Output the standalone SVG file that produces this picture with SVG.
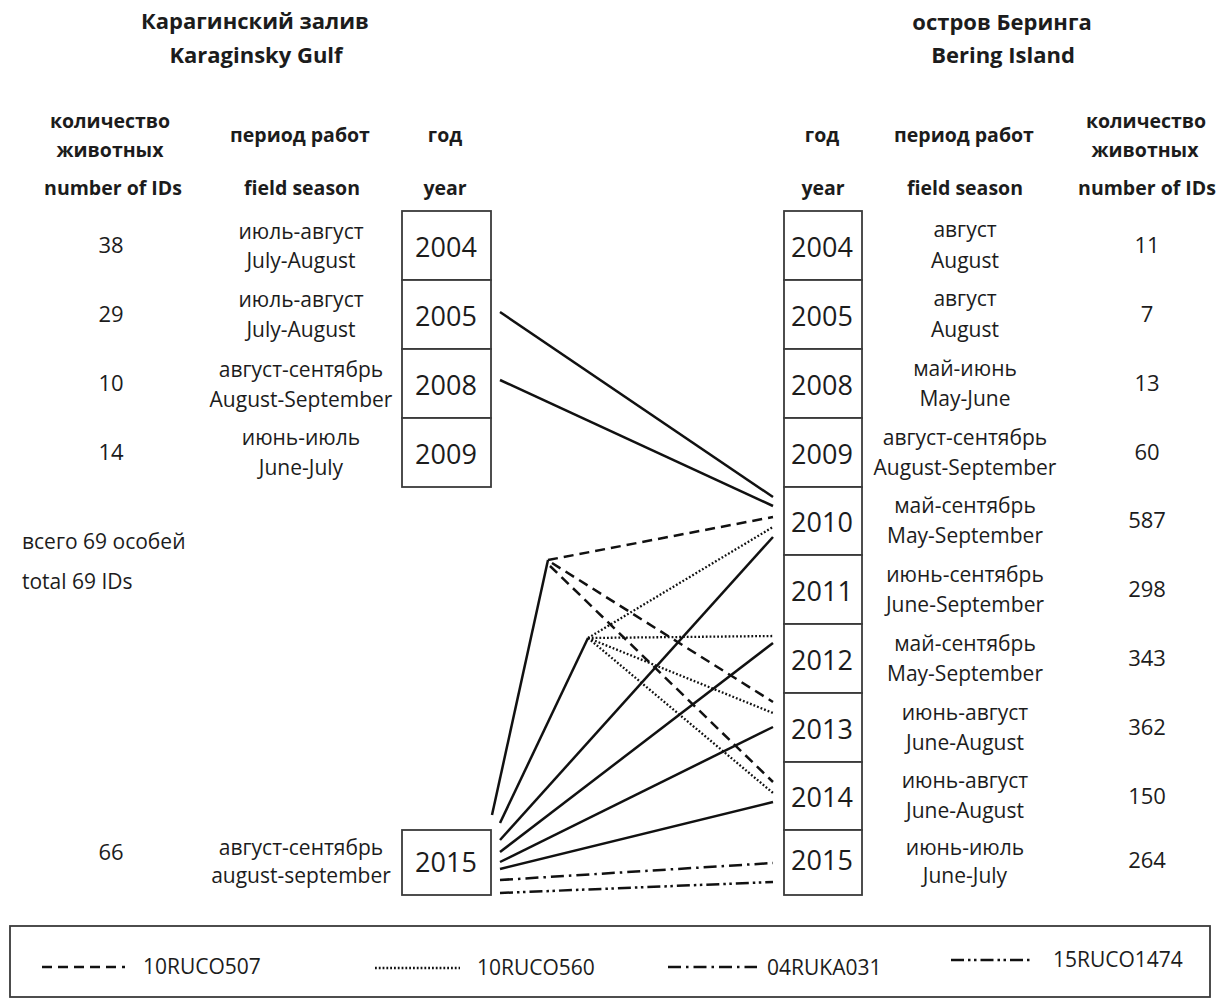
<svg xmlns="http://www.w3.org/2000/svg" width="1223" height="999" viewBox="0 0 1223 999">
<style>
text{font-family:"Open Sans","Noto Sans","DejaVu Sans",sans-serif;fill:#1c1c1c}
.t{font-size:22px;font-weight:bold;text-anchor:middle}
.h{font-size:19.5px;font-weight:bold;text-anchor:middle}
.s{font-size:21px;text-anchor:middle}
.n{font-size:22px;text-anchor:middle}
.y{font-size:27px;text-anchor:middle}
.lg{font-size:21px}
.box{fill:#fff;stroke:#3a3a3a;stroke-width:1.8}
.c{stroke:#111;stroke-width:2.5;fill:none}
.dash{stroke-dasharray:10 6}
.dot{stroke-dasharray:1.8 2;stroke-width:2.3}
.dd{stroke-dasharray:13 5 2.5 5}
.ddd{stroke-dasharray:13 4 2.5 3.5 2.5 4}
</style>

<g id="titles">
<text class="t" x="255" y="29">Карагинский залив</text>
<text class="t" x="256" y="63">Karaginsky Gulf</text>
<text class="t" x="1002" y="30">остров Беринга</text>
<text class="t" x="1003" y="63">Bering Island</text>
</g>

<g id="headers-left">
<text class="h" x="110" y="128">количество</text>
<text class="h" x="110" y="157">животных</text>
<text class="h" x="113" y="195">number of IDs</text>
<text class="h" x="300" y="142">период работ</text>
<text class="h" x="302" y="195">field season</text>
<text class="h" x="445" y="142">год</text>
<text class="h" x="445" y="195">year</text>
</g>

<g id="headers-right">
<text class="h" x="822" y="142">год</text>
<text class="h" x="823" y="195">year</text>
<text class="h" x="964" y="142">период работ</text>
<text class="h" x="965" y="195">field season</text>
<text class="h" x="1146" y="128">количество</text>
<text class="h" x="1145" y="157">животных</text>
<text class="h" x="1147" y="195">number of IDs</text>
</g>

<g id="left-2004">
<rect class="box" x="402" y="211" width="89" height="69"/>
<text class="y" x="446" y="257">2004</text>
<text class="s" x="301" y="239">июль-август</text>
<text class="s" x="301" y="268">July-August</text>
<text class="n" x="111" y="253">38</text>
</g>
<g id="left-2005">
<rect class="box" x="402" y="280" width="89" height="69"/>
<text class="y" x="446" y="326">2005</text>
<text class="s" x="301" y="307">июль-август</text>
<text class="s" x="301" y="337">July-August</text>
<text class="n" x="111" y="322">29</text>
</g>
<g id="left-2008">
<rect class="box" x="402" y="349" width="89" height="69"/>
<text class="y" x="446" y="395">2008</text>
<text class="s" x="301" y="377">август-сентябрь</text>
<text class="s" x="301" y="407">August-September</text>
<text class="n" x="111" y="391">10</text>
</g>
<g id="left-2009">
<rect class="box" x="402" y="418" width="89" height="69"/>
<text class="y" x="446" y="464">2009</text>
<text class="s" x="301" y="445">июнь-июль</text>
<text class="s" x="301" y="475">June-July</text>
<text class="n" x="111" y="460">14</text>
</g>
<g id="left-total">
<text class="lg" x="22" y="549">всего 69 особей</text>
<text class="lg" x="22" y="589">total 69 IDs</text>
</g>
<g id="left-2015">
<rect class="box" x="402" y="830" width="89" height="65"/>
<text class="y" x="446" y="872">2015</text>
<text class="s" x="301" y="855">август-сентябрь</text>
<text class="s" x="301" y="883">august-september</text>
<text class="n" x="111" y="860">66</text>
</g>

<g id="right-2004">
<rect class="box" x="784" y="211" width="78" height="69"/>
<text class="y" x="822" y="257">2004</text>
<text class="s" x="965" y="237">август</text>
<text class="s" x="965" y="268">August</text>
<text class="n" x="1147" y="253">11</text>
</g>
<g id="right-2005">
<rect class="box" x="784" y="280" width="78" height="69"/>
<text class="y" x="822" y="326">2005</text>
<text class="s" x="965" y="306">август</text>
<text class="s" x="965" y="337">August</text>
<text class="n" x="1147" y="322">7</text>
</g>
<g id="right-2008">
<rect class="box" x="784" y="349" width="78" height="69"/>
<text class="y" x="822" y="395">2008</text>
<text class="s" x="965" y="376">май-июнь</text>
<text class="s" x="965" y="406">May-June</text>
<text class="n" x="1147" y="391">13</text>
</g>
<g id="right-2009">
<rect class="box" x="784" y="418" width="78" height="69"/>
<text class="y" x="822" y="464">2009</text>
<text class="s" x="965" y="445">август-сентябрь</text>
<text class="s" x="965" y="475">August-September</text>
<text class="n" x="1147" y="460">60</text>
</g>
<g id="right-2010">
<rect class="box" x="784" y="487" width="78" height="68"/>
<text class="y" x="822" y="532">2010</text>
<text class="s" x="965" y="513">май-сентябрь</text>
<text class="s" x="965" y="543">May-September</text>
<text class="n" x="1147" y="528">587</text>
</g>
<g id="right-2011">
<rect class="box" x="784" y="555" width="78" height="69"/>
<text class="y" x="822" y="601">2011</text>
<text class="s" x="965" y="582">июнь-сентябрь</text>
<text class="s" x="965" y="612">June-September</text>
<text class="n" x="1147" y="597">298</text>
</g>
<g id="right-2012">
<rect class="box" x="784" y="624" width="78" height="69"/>
<text class="y" x="822" y="670">2012</text>
<text class="s" x="965" y="651">май-сентябрь</text>
<text class="s" x="965" y="681">May-September</text>
<text class="n" x="1147" y="666">343</text>
</g>
<g id="right-2013">
<rect class="box" x="784" y="693" width="78" height="69"/>
<text class="y" x="822" y="739">2013</text>
<text class="s" x="965" y="720">июнь-август</text>
<text class="s" x="965" y="750">June-August</text>
<text class="n" x="1147" y="735">362</text>
</g>
<g id="right-2014">
<rect class="box" x="784" y="762" width="78" height="68"/>
<text class="y" x="822" y="807">2014</text>
<text class="s" x="965" y="788">июнь-август</text>
<text class="s" x="965" y="818">June-August</text>
<text class="n" x="1147" y="804">150</text>
</g>
<g id="right-2015">
<rect class="box" x="784" y="830" width="78" height="65"/>
<text class="y" x="822" y="870">2015</text>
<text class="s" x="965" y="855">июнь-июль</text>
<text class="s" x="965" y="883">June-July</text>
<text class="n" x="1147" y="868">264</text>
</g>

<g id="connectors">
<line class="c" x1="500" y1="312" x2="773" y2="497"/>
<line class="c" x1="500" y1="380" x2="773" y2="506"/>
<line class="c" x1="492" y1="815" x2="548" y2="560"/>
<line class="c dash" x1="548" y1="560" x2="773" y2="517"/>
<line class="c dash" x1="552" y1="563" x2="773" y2="702"/>
<line class="c dash" x1="550" y1="566" x2="773" y2="782"/>
<line class="c" x1="500" y1="823" x2="588" y2="638"/>
<line class="c dot" x1="588" y1="638" x2="773" y2="527"/>
<line class="c dot" x1="588" y1="638" x2="773" y2="636"/>
<line class="c dot" x1="588" y1="638" x2="773" y2="713"/>
<line class="c dot" x1="588" y1="638" x2="773" y2="793"/>
<line class="c" x1="500" y1="840" x2="773" y2="537"/>
<line class="c" x1="500" y1="852" x2="773" y2="643"/>
<line class="c" x1="500" y1="862" x2="773" y2="727"/>
<line class="c" x1="500" y1="869" x2="773" y2="802"/>
<line class="c dd" x1="500" y1="880" x2="773" y2="863"/>
<line class="c ddd" x1="500" y1="893" x2="773" y2="882"/>
</g>

<g id="legend">
<rect x="10" y="926" width="1200" height="71" fill="#fff" stroke="#3a3a3a" stroke-width="1.8"/>
<line class="c dash" x1="42" y1="967" x2="125" y2="967"/>
<text class="lg" x="143" y="974">10RUCO507</text>
<line class="c dot" x1="375" y1="968" x2="460" y2="968"/>
<text class="lg" x="477" y="975">10RUCO560</text>
<line class="c dd" x1="668" y1="967" x2="757" y2="967"/>
<text class="lg" x="767" y="975">04RUKA031</text>
<line class="c ddd" x1="951" y1="960" x2="1033" y2="960"/>
<text class="lg" x="1053" y="967">15RUCO1474</text>
</g>
</svg>
